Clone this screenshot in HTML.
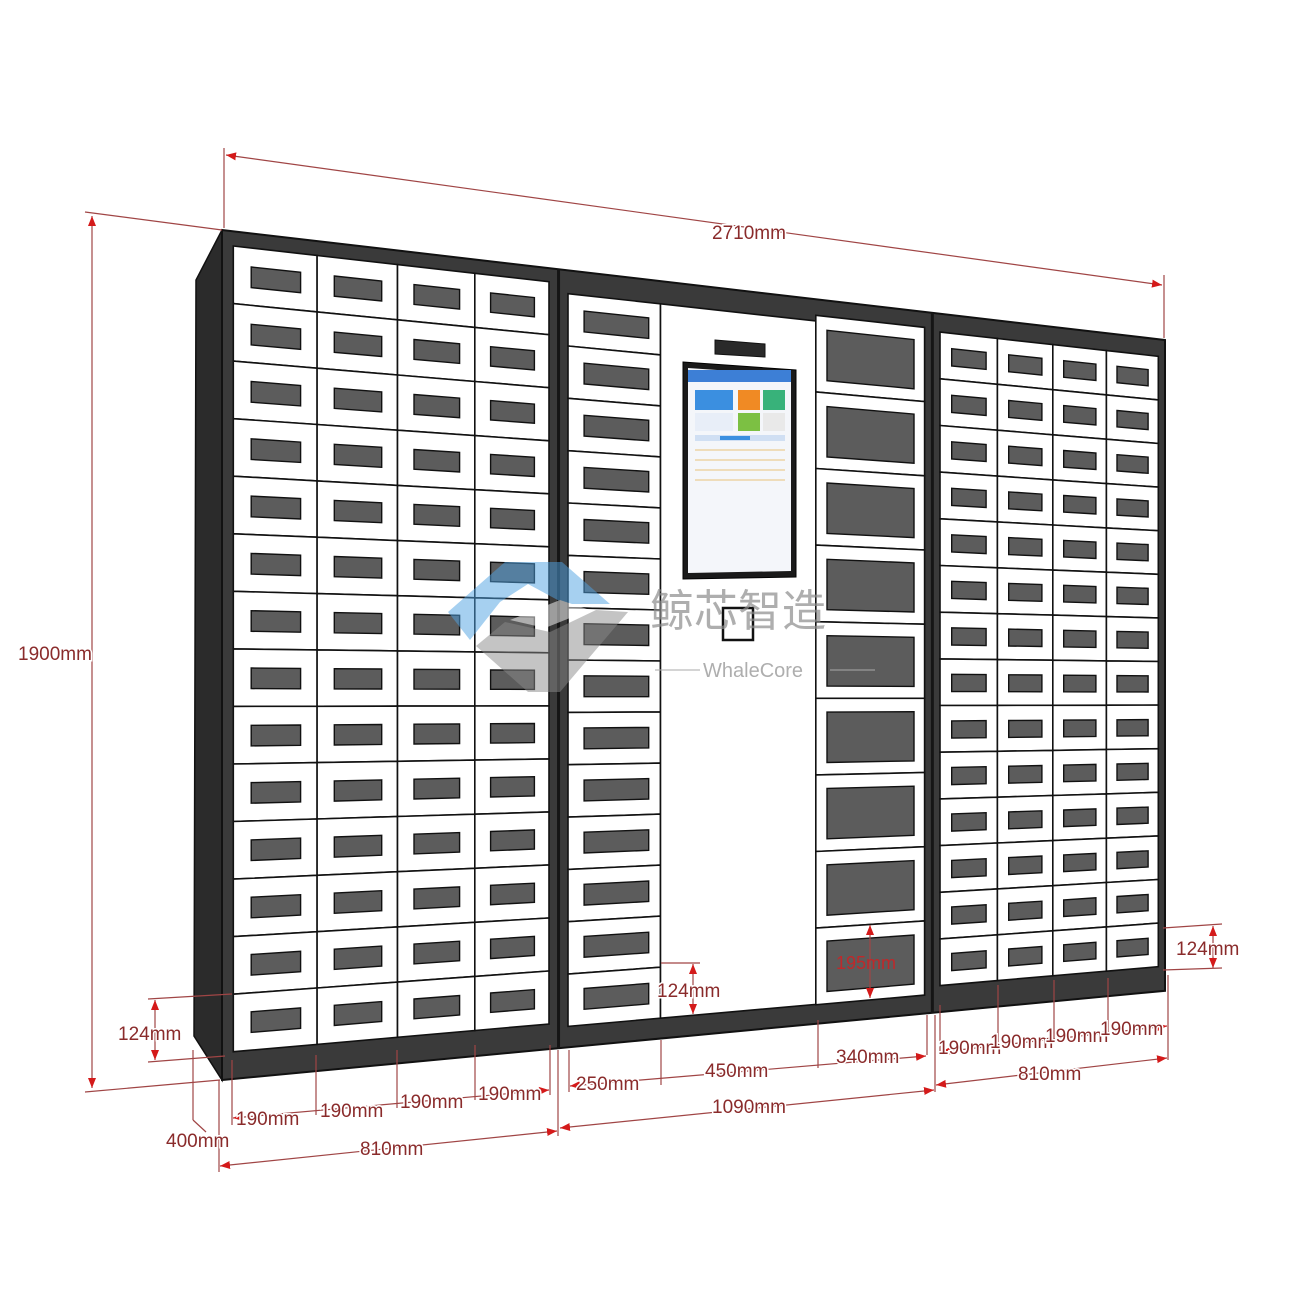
<!DOCTYPE html>
<html><head><meta charset="utf-8">
<style>
html,body{margin:0;padding:0;background:#fff;}
svg{display:block;}
.t{font-family:"Liberation Sans",sans-serif;font-size:19px;fill:#8a2b2b;paint-order:stroke;stroke:#fff;stroke-width:3px;}
</style></head>
<body>
<svg id="s" width="1300" height="1300" viewBox="0 0 1300 1300" xmlns="http://www.w3.org/2000/svg">
<defs>
<marker id="a" viewBox="0 0 10 10" refX="10" refY="5" markerWidth="9" markerHeight="9" orient="auto-start-reverse" markerUnits="userSpaceOnUse"><path d="M0,1 L10,5 L0,9 z" fill="#d41a1a"/></marker>
</defs>
<g id="g"></g>
</svg>
<script>
function X(u){var t=u/2710;return 222+1227.5*t/(1+0.3017*t);}
function TOP(x){return 230+0.1166*(x-222);}
function BOT(x){return 1080-0.0946*(x-222);}
function P(u,v){var x=X(u),t=TOP(x),b=BOT(x);return [x,t+(b-t)*v/1900];}
function q(u1,v1,u2,v2){var p=[P(u1,v1),P(u2,v1),P(u2,v2),P(u1,v2)];return p.map(function(a){return a[0].toFixed(1)+','+a[1].toFixed(1)}).join(' ');}
var o='';
function poly(pts,fill,stroke,sw,extra){o+='<polygon points="'+pts+'" fill="'+fill+'" stroke="'+stroke+'" stroke-width="'+(sw||1)+'" '+(extra||'')+'/>';}
function cell(u1,v1,u2,v2,wx1,wx2,wy1,wy2){
 poly(q(u1,v1,u2,v2),'#fff','#111',1.6);
 var w=u2-u1,h=v2-v1;
 poly(q(u1+w*wx1,v1+h*wy1,u1+w*wx2,v1+h*wy2),'#5c5c5c','#111',1.4);
}
// side panel
poly('222,230 196,280 194,1036 222,1080','#2b2b2b','#111',1.5);
// front
poly(q(0,0,2710,1900),'#3a3a3a','#111',2);
// separators
[810,1900].forEach(function(u){var a=P(u,0),b=P(u,1900);o+='<line x1="'+a[0]+'" y1="'+a[1]+'" x2="'+b[0]+'" y2="'+b[1]+'" stroke="#151515" stroke-width="3"/>';});
// left cabinet
for(var c=0;c<4;c++)for(var r=0;r<14;r++)cell(25+190*c,33+129*r,25+190*(c+1),33+129*(r+1),0.21,0.8,0.33,0.69);
// middle left column
for(var r=0;r<14;r++)cell(835,57+128*r,1085,57+128*(r+1),0.17,0.87,0.3,0.7);
// center panel
poly(q(1085,57,1535,1849),'#fff','#111',1.6);
// right column
for(var r=0;r<9;r++){var h=(1850-42)/9;cell(1535,42+h*r,1875,42+h*(r+1),0.1,0.9,0.18,0.84);}
// right cabinet
for(var c=0;c<4;c++)for(var r=0;r<14;r++)cell(1925+190*c,50+127*r,1925+190*(c+1),50+127*(r+1),0.2,0.8,0.33,0.7);
document.getElementById('g').innerHTML=o;
</script>
<svg width="1300" height="1300" style="position:absolute;left:0;top:0" xmlns="http://www.w3.org/2000/svg">
<defs>
<marker id="b" viewBox="0 0 10 10" refX="10" refY="5" markerWidth="10" markerHeight="10" orient="auto-start-reverse" markerUnits="userSpaceOnUse"><path d="M0,1 L10,5 L0,9 z" fill="#d41a1a"/></marker>
</defs>
<!-- slot and screen -->
<polygon points="715,340 765,344 765,357 715,354" fill="#2a2a2a" stroke="#111"/>
<polygon points="683,362 796,370 796,577 683,579" fill="#1a1a1a" stroke="#000"/>
<polygon points="688,368 791,375 791,571 688,573" fill="#f4f6fa"/>
<rect x="688" y="370" width="103" height="12" fill="#3d7fd6"/>
<rect x="695" y="390" width="38" height="20" fill="#3b8fe0"/>
<rect x="738" y="390" width="22" height="20" fill="#f08a24"/>
<rect x="763" y="390" width="22" height="20" fill="#38b27a"/>
<rect x="695" y="413" width="38" height="18" fill="#e8eef8"/>
<rect x="738" y="413" width="22" height="18" fill="#7cc043"/>
<rect x="763" y="413" width="22" height="18" fill="#e9e9e9"/>
<rect x="695" y="435" width="90" height="6" fill="#d0dff3"/>
<rect x="720" y="436" width="30" height="4" fill="#3b8fe0"/>
<g stroke="#e8c27a" stroke-width="1"><line x1="695" y1="450" x2="785" y2="450"/><line x1="695" y1="460" x2="785" y2="460"/><line x1="695" y1="470" x2="785" y2="470"/><line x1="695" y1="480" x2="785" y2="480"/></g>
<rect x="723" y="608" width="30" height="32" fill="#fff" stroke="#111" stroke-width="2.5"/>
<!-- watermark -->
<g opacity="0.5">
<polygon points="448,612 505,562 562,562 610,604 565,604 528,584 500,602 470,640" fill="#4fa3e3"/>
<polygon points="476,646 505,622 550,632 596,610 628,612 560,692 528,692" fill="#8a8a8a"/>
<polygon points="510,620 560,600 590,610 545,628" fill="#ffffff"/>
</g>
<text x="650" y="626" font-family="'Liberation Sans','Noto Sans CJK SC',sans-serif" font-size="44" fill="#8d8d8d" opacity="0.7">鲸芯智造</text>
<line x1="655" y1="670" x2="700" y2="670" stroke="#aaa"/><line x1="830" y1="670" x2="875" y2="670" stroke="#aaa"/>
<text x="703" y="677" font-family="'Liberation Sans',sans-serif" font-size="20" fill="#9a9a9a" opacity="0.8">WhaleCore</text>

<g stroke="#a04545" stroke-width="1.2" fill="none">
<!-- extension lines -->
<line x1="224" y1="148" x2="224" y2="228"/><line x1="1164" y1="275" x2="1164" y2="338"/>
<line x1="85" y1="212" x2="222" y2="230"/><line x1="85" y1="1092" x2="220" y2="1080"/>
<line x1="148" y1="999" x2="232" y2="994"/><line x1="148" y1="1062" x2="225" y2="1056"/>
<line x1="193" y1="1050" x2="193" y2="1120"/><line x1="193" y1="1120" x2="206" y2="1132"/>
<line x1="219" y1="1080" x2="219" y2="1172"/><line x1="558" y1="1050" x2="558" y2="1136"/>
<line x1="232" y1="1060" x2="232" y2="1125"/><line x1="316" y1="1055" x2="316" y2="1115"/><line x1="397" y1="1050" x2="397" y2="1108"/><line x1="475" y1="1045" x2="475" y2="1100"/><line x1="550" y1="1045" x2="550" y2="1095"/>
<line x1="569" y1="1050" x2="569" y2="1092"/><line x1="661" y1="1040" x2="661" y2="1085"/><line x1="818" y1="1020" x2="818" y2="1068"/><line x1="927" y1="1015" x2="927" y2="1055"/>
<line x1="935" y1="1015" x2="935" y2="1092"/><line x1="940" y1="1005" x2="940" y2="1055"/><line x1="998" y1="985" x2="998" y2="1048"/><line x1="1054" y1="980" x2="1054" y2="1040"/><line x1="1108" y1="978" x2="1108" y2="1034"/><line x1="1168" y1="975" x2="1168" y2="1060"/>
<line x1="1163" y1="928" x2="1222" y2="924"/><line x1="1163" y1="970" x2="1222" y2="968"/>
<line x1="661" y1="963" x2="700" y2="963"/>
<!-- dimension lines -->
<line x1="226" y1="155" x2="1162" y2="285" marker-start="url(#b)" marker-end="url(#b)"/>
<line x1="92" y1="216" x2="92" y2="1088" marker-start="url(#b)" marker-end="url(#b)"/>
<line x1="155" y1="1000" x2="155" y2="1060" marker-start="url(#b)" marker-end="url(#b)"/>
<line x1="233" y1="1118" x2="549" y2="1090" marker-start="url(#b)" marker-end="url(#b)"/>
<line x1="220" y1="1166" x2="557" y2="1131" marker-start="url(#b)" marker-end="url(#b)"/>
<line x1="570" y1="1086" x2="926" y2="1056" marker-start="url(#b)" marker-end="url(#b)"/>
<line x1="560" y1="1128" x2="934" y2="1090" marker-start="url(#b)" marker-end="url(#b)"/>
<line x1="693" y1="964" x2="693" y2="1014" marker-start="url(#b)" marker-end="url(#b)"/>
<line x1="870" y1="925" x2="870" y2="998" marker-start="url(#b)" marker-end="url(#b)"/>
<line x1="941" y1="1052" x2="1167" y2="1026" marker-start="url(#b)" marker-end="url(#b)"/>
<line x1="936" y1="1085" x2="1167" y2="1058" marker-start="url(#b)" marker-end="url(#b)"/>
<line x1="1213" y1="926" x2="1213" y2="968" marker-start="url(#b)" marker-end="url(#b)"/>
</g>
<g class="t">
<text x="712" y="239">2710mm</text>
<text x="18" y="660">1900mm</text>
<text x="118" y="1040">124mm</text>
<text x="166" y="1147">400mm</text>
<text x="236" y="1125">190mm</text>
<text x="320" y="1117">190mm</text>
<text x="400" y="1108">190mm</text>
<text x="478" y="1100">190mm</text>
<text x="360" y="1155">810mm</text>
<text x="576" y="1090">250mm</text>
<text x="705" y="1077">450mm</text>
<text x="836" y="1063">340mm</text>
<text x="712" y="1113">1090mm</text>
<text x="657" y="997">124mm</text>
<text x="938" y="1054">190mm</text>
<text x="990" y="1048">190mm</text>
<text x="1045" y="1042">190mm</text>
<text x="1100" y="1035">190mm</text>
<text x="1018" y="1080">810mm</text>
<text x="1176" y="955">124mm</text>
</g>
<text x="836" y="969" font-family="'Liberation Sans',sans-serif" font-size="18" fill="#c0282a">195mm</text>
</svg>
</body></html>
